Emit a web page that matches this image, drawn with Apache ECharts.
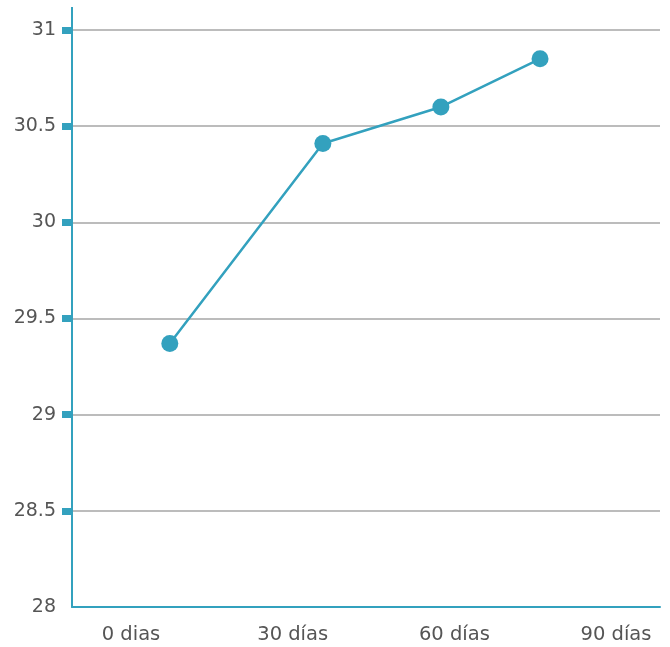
<!DOCTYPE html>
<html>
<head>
<meta charset="utf-8">
<script src="https://cdn.jsdelivr.net/npm/echarts@6/dist/echarts.min.js"></script>
<style>html,body{margin:0;padding:0;background:#fff}#c{width:670px;height:647px}</style>
</head>
<body>
<div id="c"></div>
<script>
const xTickValues = [0, 30, 60, 90];
const xTickLabels = ['0 dias', '30 días', '60 días', '90 días'];
const pointDays = [7.2, 35.6, 57.5, 75.9];
const pointValues = [29.37, 30.41, 30.60, 30.85];
const yTickValues = [28, 28.5, 29, 29.5, 30, 30.5, 31];

const teal = '#33a1be';
const chart = echarts.init(document.getElementById('c'), null, {renderer: 'canvas'});
chart.setOption({
  animation: false,
  grid: {left: 72, right: 10, top: 30, bottom: 40, containLabel: false},
  xAxis: {
    type: 'value', min: -10.95, max: 98.16,
    axisLine: {show: true, onZero: false, lineStyle: {color: teal, width: 2}},
    axisTick: {show: false},
    splitLine: {show: false},
    axisLabel: {
      customValues: xTickValues,
      margin: 18,
      fontSize: 19.5, color: '#555', fontFamily: 'DejaVu Sans',
      formatter: v => xTickLabels[xTickValues.indexOf(v)] ?? ''
    }
  },
  yAxis: {
    type: 'value', min: 28, max: 31, interval: 0.5,
    axisLine: {show: true, onZero: false, symbol: ['none', 'rect'], symbolSize: [2, 46], lineStyle: {color: teal, width: 2}},
    axisTick: {show: true, length: 10, customValues: yTickValues.slice(1), lineStyle: {color: teal, width: 7}},
    splitLine: {show: true, lineStyle: {color: ['#a6a6a6','#a6a6a6','#a6a6a6','#a6a6a6','#a6a6a6','#a6a6a6','#666'], width: 1.5}},
    axisLabel: {
      margin: 16, fontSize: 19, color: '#555', fontFamily: 'DejaVu Sans',
      formatter: v => String(v)
    }
  },
  series: [{
    type: 'line',
    data: pointDays.map((d, i) => [d, pointValues[i]]),
    symbol: 'circle', symbolSize: 17,
    lineStyle: {color: teal, width: 2.5},
    itemStyle: {color: teal}
  }]
});
</script>
</body>
</html>
